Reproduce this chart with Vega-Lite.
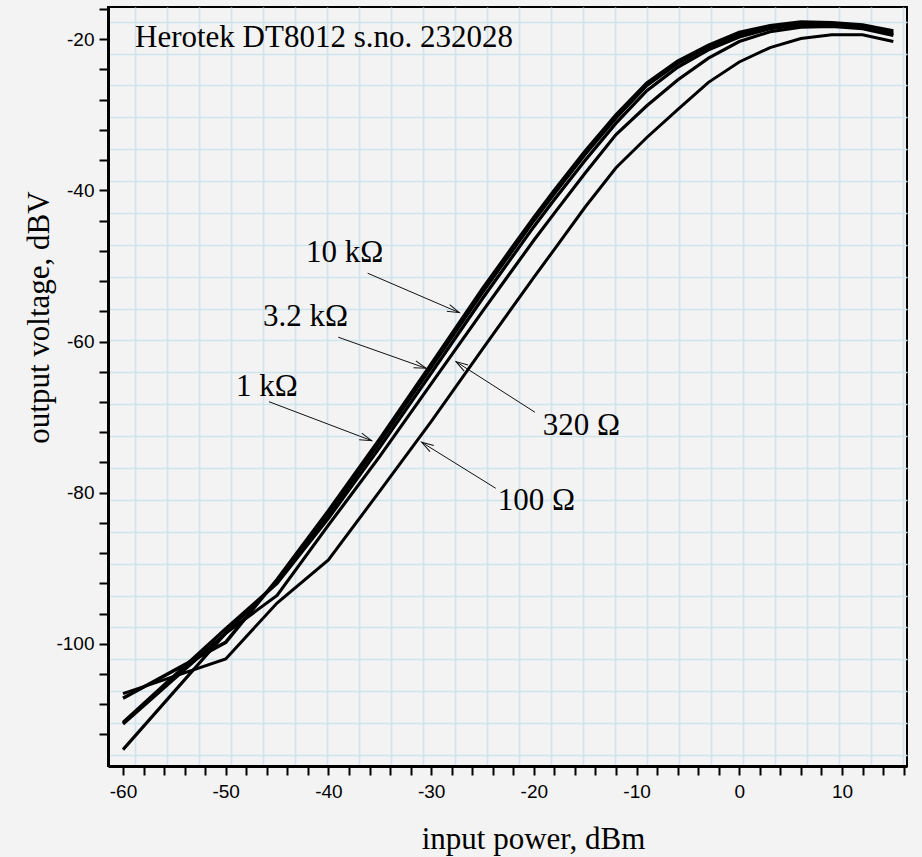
{
  "$schema": "https://vega.github.io/schema/vega-lite/v6.json",
  "width": 799,
  "height": 759,
  "autosize": {"type": "none"},
  "padding": {"left": 108, "top": 7, "right": 15, "bottom": 91},
  "background": "#f3f3f3",
  "config": {
    "view": {"stroke": "#000000", "strokeWidth": 2, "fill": "#f3f3f3"}
  },
  "datasets": {
    "curves": [
      {"load": "10 kΩ", "x": -60, "y": -107.2}, {"load": "10 kΩ", "x": -50, "y": -99.8}, {"load": "10 kΩ", "x": -45, "y": -91.5}, {"load": "10 kΩ", "x": -40, "y": -82.4}, {"load": "10 kΩ", "x": -35, "y": -72.9}, {"load": "10 kΩ", "x": -30, "y": -63.0}, {"load": "10 kΩ", "x": -25, "y": -53.0}, {"load": "10 kΩ", "x": -20, "y": -43.6}, {"load": "10 kΩ", "x": -18, "y": -40.0}, {"load": "10 kΩ", "x": -15, "y": -34.8}, {"load": "10 kΩ", "x": -12, "y": -30.0}, {"load": "10 kΩ", "x": -9, "y": -25.8}, {"load": "10 kΩ", "x": -6, "y": -22.9}, {"load": "10 kΩ", "x": -3, "y": -20.8}, {"load": "10 kΩ", "x": 0, "y": -19.1}, {"load": "10 kΩ", "x": 3, "y": -18.2}, {"load": "10 kΩ", "x": 6, "y": -17.7}, {"load": "10 kΩ", "x": 9, "y": -17.8}, {"load": "10 kΩ", "x": 12, "y": -18.1}, {"load": "10 kΩ", "x": 15, "y": -18.9},
      {"load": "3.2 kΩ", "x": -60, "y": -110.6}, {"load": "3.2 kΩ", "x": -50, "y": -98.6}, {"load": "3.2 kΩ", "x": -45, "y": -91.8}, {"load": "3.2 kΩ", "x": -40, "y": -82.8}, {"load": "3.2 kΩ", "x": -35, "y": -73.3}, {"load": "3.2 kΩ", "x": -30, "y": -63.4}, {"load": "3.2 kΩ", "x": -25, "y": -53.5}, {"load": "3.2 kΩ", "x": -20, "y": -44.0}, {"load": "3.2 kΩ", "x": -18, "y": -40.4}, {"load": "3.2 kΩ", "x": -15, "y": -35.2}, {"load": "3.2 kΩ", "x": -12, "y": -30.4}, {"load": "3.2 kΩ", "x": -9, "y": -26.1}, {"load": "3.2 kΩ", "x": -6, "y": -23.2}, {"load": "3.2 kΩ", "x": -3, "y": -21.0}, {"load": "3.2 kΩ", "x": 0, "y": -19.4}, {"load": "3.2 kΩ", "x": 3, "y": -18.4}, {"load": "3.2 kΩ", "x": 6, "y": -17.9}, {"load": "3.2 kΩ", "x": 9, "y": -18.0}, {"load": "3.2 kΩ", "x": 12, "y": -18.3}, {"load": "3.2 kΩ", "x": 15, "y": -19.2},
      {"load": "1 kΩ", "x": -60, "y": -110.4}, {"load": "1 kΩ", "x": -50, "y": -98.0}, {"load": "1 kΩ", "x": -45, "y": -92.0}, {"load": "1 kΩ", "x": -40, "y": -83.4}, {"load": "1 kΩ", "x": -35, "y": -74.0}, {"load": "1 kΩ", "x": -30, "y": -64.2}, {"load": "1 kΩ", "x": -25, "y": -54.3}, {"load": "1 kΩ", "x": -20, "y": -44.8}, {"load": "1 kΩ", "x": -18, "y": -41.2}, {"load": "1 kΩ", "x": -15, "y": -36.0}, {"load": "1 kΩ", "x": -12, "y": -31.1}, {"load": "1 kΩ", "x": -9, "y": -26.8}, {"load": "1 kΩ", "x": -6, "y": -23.7}, {"load": "1 kΩ", "x": -3, "y": -21.4}, {"load": "1 kΩ", "x": 0, "y": -19.7}, {"load": "1 kΩ", "x": 3, "y": -18.6}, {"load": "1 kΩ", "x": 6, "y": -18.1}, {"load": "1 kΩ", "x": 9, "y": -18.1}, {"load": "1 kΩ", "x": 12, "y": -18.4}, {"load": "1 kΩ", "x": 15, "y": -19.4},
      {"load": "320 Ω", "x": -60, "y": -114.0}, {"load": "320 Ω", "x": -50, "y": -98.6}, {"load": "320 Ω", "x": -45, "y": -93.6}, {"load": "320 Ω", "x": -40, "y": -84.3}, {"load": "320 Ω", "x": -35, "y": -75.2}, {"load": "320 Ω", "x": -30, "y": -65.6}, {"load": "320 Ω", "x": -25, "y": -56.0}, {"load": "320 Ω", "x": -20, "y": -46.6}, {"load": "320 Ω", "x": -18, "y": -43.0}, {"load": "320 Ω", "x": -15, "y": -37.7}, {"load": "320 Ω", "x": -12, "y": -32.6}, {"load": "320 Ω", "x": -9, "y": -28.8}, {"load": "320 Ω", "x": -6, "y": -25.4}, {"load": "320 Ω", "x": -3, "y": -22.5}, {"load": "320 Ω", "x": 0, "y": -20.3}, {"load": "320 Ω", "x": 3, "y": -19.0}, {"load": "320 Ω", "x": 6, "y": -18.4}, {"load": "320 Ω", "x": 9, "y": -18.3}, {"load": "320 Ω", "x": 12, "y": -18.6}, {"load": "320 Ω", "x": 15, "y": -19.5},
      {"load": "100 Ω", "x": -60, "y": -106.6}, {"load": "100 Ω", "x": -50, "y": -102.0}, {"load": "100 Ω", "x": -45, "y": -94.6}, {"load": "100 Ω", "x": -40, "y": -88.9}, {"load": "100 Ω", "x": -35, "y": -79.8}, {"load": "100 Ω", "x": -30, "y": -70.6}, {"load": "100 Ω", "x": -25, "y": -61.0}, {"load": "100 Ω", "x": -20, "y": -51.5}, {"load": "100 Ω", "x": -18, "y": -47.8}, {"load": "100 Ω", "x": -15, "y": -42.2}, {"load": "100 Ω", "x": -12, "y": -37.0}, {"load": "100 Ω", "x": -9, "y": -33.0}, {"load": "100 Ω", "x": -6, "y": -29.3}, {"load": "100 Ω", "x": -3, "y": -25.7}, {"load": "100 Ω", "x": 0, "y": -23.0}, {"load": "100 Ω", "x": 3, "y": -21.1}, {"load": "100 Ω", "x": 6, "y": -19.9}, {"load": "100 Ω", "x": 9, "y": -19.4}, {"load": "100 Ω", "x": 12, "y": -19.4}, {"load": "100 Ω", "x": 15, "y": -20.3}
    ],
    "labels": [
      {"text": "Herotek DT8012 s.no. 232028", "x": -58.83, "y": -21.02},
      {"text": "10 kΩ", "x": -42.18, "y": -49.47},
      {"text": "3.2 kΩ", "x": -46.37, "y": -57.9},
      {"text": "1 kΩ", "x": -49.0, "y": -67.16},
      {"text": "320 Ω", "x": -19.14, "y": -72.36},
      {"text": "100 Ω", "x": -23.52, "y": -82.29}
    ],
    "arrows": [
      {"load": "10 kΩ", "x1": -36.18, "y1": -50.96, "x2": -27.26, "y2": -56.18},
      {"load": "3.2 kΩ", "x1": -39.04, "y1": -59.43, "x2": -30.5, "y2": -63.54},
      {"load": "1 kΩ", "x1": -45.79, "y1": -67.96, "x2": -35.79, "y2": -73.12},
      {"load": "320 Ω", "x1": -19.89, "y1": -69.36, "x2": -27.58, "y2": -62.66},
      {"load": "100 Ω", "x1": -23.71, "y1": -79.42, "x2": -30.92, "y2": -73.33}
    ]
  },
  "resolve": {"scale": {"x": "independent", "y": "independent"}},
  "layer": [
    {
      "data": {"name": "curves"},
      "mark": {"type": "point", "opacity": 0},
      "encoding": {
        "x": {"field": "x", "type": "quantitative",
          "scale": {"domain": [-61.46, 16.33], "nice": false, "zero": false},
          "axis": {"orient": "top", "grid": true, "domain": false, "ticks": false, "labels": false, "title": null,
            "gridColor": "#cfe4ec", "gridWidth": 1.6, "gridOpacity": 1,
            "values": [-58.83, -55.72, -52.6, -49.49, -46.37, -43.25, -40.14, -37.02, -33.91, -30.79, -27.67, -24.56, -21.44, -18.33, -15.21, -12.1, -8.98, -5.86, -2.75, 0.37, 3.48, 6.6, 9.72, 12.83, 15.95]}},
        "y": {"field": "y", "type": "quantitative",
          "scale": {"domain": [-116.17, -15.73], "nice": false, "zero": false},
          "axis": {"orient": "right", "grid": true, "domain": false, "ticks": false, "labels": false, "title": null,
            "gridColor": "#cfe4ec", "gridWidth": 1.6, "gridOpacity": 1,
            "values": [-17.67, -21.89, -26.11, -30.33, -34.55, -38.77, -42.98, -47.2, -51.42, -55.64, -59.86, -64.08, -68.3, -72.52, -76.74, -80.96, -85.18, -89.39, -93.61, -97.83, -102.05, -106.27, -110.49, -114.71]}}
      }
    },
    {
      "encoding": {
        "x": {"type": "quantitative",
          "scale": {"domain": [-61.46, 16.33], "nice": false, "zero": false},
          "axis": {"orient": "bottom", "grid": false,
            "values": [-60, -58, -56, -54, -52, -50, -48, -46, -44, -42, -40, -38, -36, -34, -32, -30, -28, -26, -24, -22, -20, -18, -16, -14, -12, -10, -8, -6, -4, -2, 0, 2, 4, 6, 8, 10, 12, 14, 16],
            "labelExpr": "datum.value % 10 === 0 ? '' + datum.value : ''",
            "domainColor": "#000000", "domainWidth": 3,
            "tickColor": "#000000", "tickWidth": 2, "tickSize": 9,
            "labelFont": "Liberation Sans", "labelFontSize": 19, "labelColor": "#000000", "labelPadding": 7,
            "labelFlush": false, "labelOverlap": false,
            "title": "input power, dBm",
            "titleFont": "Liberation Serif", "titleFontSize": 31, "titleFontWeight": "normal", "titleColor": "#000000",
            "titleX": 425, "titleY": 82, "titleBaseline": "alphabetic", "titleAlign": "center", "titleAnchor": null}},
        "y": {"type": "quantitative",
          "scale": {"domain": [-116.17, -15.73], "nice": false, "zero": false},
          "axis": {"orient": "left", "grid": false,
            "values": [-16, -20, -24, -28, -32, -36, -40, -44, -48, -52, -56, -60, -64, -68, -72, -76, -80, -84, -88, -92, -96, -100, -104, -108, -112],
            "labelExpr": "datum.value % 20 === 0 ? '' + datum.value : ''",
            "domainColor": "#000000", "domainWidth": 3,
            "tickColor": "#000000", "tickWidth": 2, "tickSize": 9,
            "labelFont": "Liberation Sans", "labelFontSize": 19, "labelColor": "#000000", "labelPadding": 5,
            "labelFlush": false, "labelOverlap": false,
            "title": "output voltage, dBV",
            "titleFont": "Liberation Serif", "titleFontSize": 31, "titleFontWeight": "normal", "titleColor": "#000000",
            "titleX": -60, "titleY": 310, "titleBaseline": "alphabetic", "titleAlign": "center", "titleAngle": -90}}
      },
      "layer": [
        {
          "data": {"name": "curves"},
          "mark": {"type": "line", "color": "#000000", "strokeCap": "butt"},
          "encoding": {
            "x": {"field": "x", "type": "quantitative"},
            "y": {"field": "y", "type": "quantitative"},
            "strokeWidth": {"field": "load", "type": "nominal",
              "scale": {"domain": ["10 kΩ", "3.2 kΩ", "1 kΩ", "320 Ω", "100 Ω"], "range": [3.5, 3, 3, 2.2, 2.5]},
              "legend": null},
            "order": {"field": "x", "type": "quantitative"}
          }
        },
        {
          "data": {"name": "arrows"},
          "mark": {"type": "rule", "color": "#111111", "strokeWidth": 1},
          "encoding": {
            "x": {"field": "x1", "type": "quantitative"},
            "y": {"field": "y1", "type": "quantitative"},
            "x2": {"field": "x2"},
            "y2": {"field": "y2"}
          }
        },
        {
          "data": {"name": "arrows"},
          "transform": [
            {"calculate": "atan2(-(datum.y2 - datum.y1) * 7.557, (datum.x2 - datum.x1) * 10.271) * 180 / PI", "as": "angle"}
          ],
          "mark": {"type": "point", "shape": "M -2 -0.6 L 0 0 L -2 0.6", "filled": false, "stroke": "#111111", "strokeWidth": 1, "size": 144, "opacity": 1},
          "encoding": {
            "x": {"field": "x2", "type": "quantitative"},
            "y": {"field": "y2", "type": "quantitative"},
            "angle": {"field": "angle", "type": "quantitative", "scale": null}
          }
        },
        {
          "data": {"name": "labels"},
          "mark": {"type": "text", "font": "Liberation Serif", "fontSize": 31, "align": "left", "baseline": "alphabetic", "color": "#000000"},
          "encoding": {
            "x": {"field": "x", "type": "quantitative"},
            "y": {"field": "y", "type": "quantitative"},
            "text": {"field": "text"}
          }
        }
      ]
    }
  ]
}
